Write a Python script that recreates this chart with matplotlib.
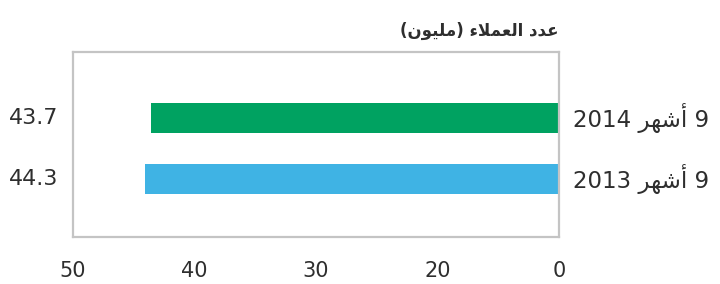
import matplotlib
matplotlib.use('Agg')
import matplotlib.pyplot as plt
import matplotlib.transforms as mtransforms
import numpy as np

# Arabic text is stored in shaped presentation forms, visual (left-to-right) order,
# because matplotlib does no Arabic shaping / bidi on its own.
# logical: "عدد العملاء (مليون)"
title = "(\uFEE5\uFEEE\uFEF4\uFEE0\uFEE3) \uFE80\uFEFC\uFEE4\uFECC\uFEDF\uFE8D \uFEA9\uFEAA\uFECB"
# logical: "9 أشهر 2014" / "9 أشهر 2013"
months = "\uFEAE\uFEEC\uFEB7\uFE83"
periods = [f"2013 {months} 9", f"2014 {months} 9"]
values = [44.3, 43.7]
value_labels = ["44.3", "43.7"]
colors = ["#3fb3e4", "#00a261"]
tick_labels = ["50", "40", "30", "20", "0"]

plt.rcParams['font.family'] = ['DejaVu Sans']
text_color = '#2e2e2e'

fig = plt.figure(figsize=(7.2, 2.84), dpi=100)
ax = fig.add_axes([73 / 720, 1 - 237 / 284, (559 - 73) / 720, (237 - 52) / 284])

y = np.arange(len(values))
ax.barh(y, values, height=0.48, color=colors, left=0)

xmax = 52
ax.set_xlim(xmax, 0)
ax.set_ylim(-0.95, 2.08)

# axis labels as printed in the original graphic (evenly spaced)
ax.set_xticks(np.linspace(xmax, 0, len(tick_labels)))
ax.set_xticklabels(tick_labels, fontsize=15, color=text_color, fontweight='medium')
ax.tick_params(axis='x', length=0, pad=17)

ax.yaxis.tick_right()
ax.set_yticks(y)
ax.set_yticklabels(periods, fontsize=16.5, color=text_color, va='center')
ax.tick_params(axis='y', length=0, pad=10)

for s in ax.spines.values():
    s.set_color('#c4c4c4')
    s.set_linewidth(1.6)

trans = mtransforms.blended_transform_factory(fig.transFigure, ax.transData)
for yi, lab in zip(y, value_labels):
    ax.text(34 / 720, yi, lab, transform=trans, ha='center', va='center',
            fontsize=16, color=text_color)

fig.text(559 / 720, 1 - 31 / 284, title, ha='right', va='center',
         fontsize=12, fontweight='bold', color=text_color)

fig.savefig('out.png', dpi=100)
plt.close(fig)
